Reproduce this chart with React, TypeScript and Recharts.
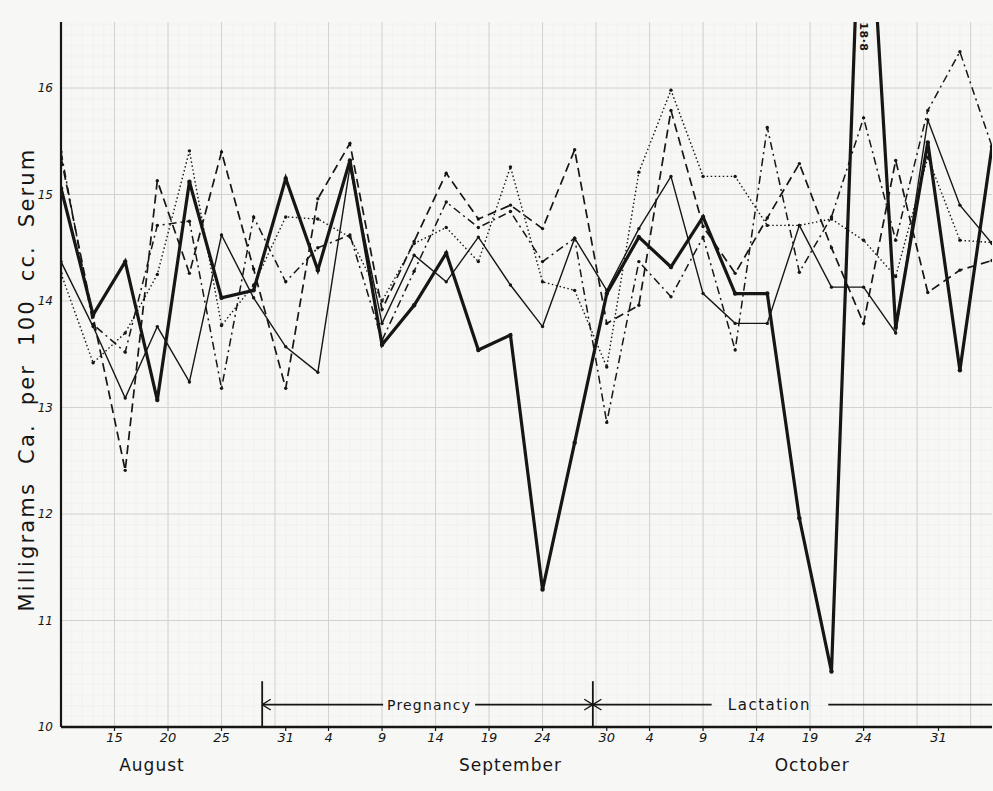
import { LineChart, Line, XAxis, YAxis, CartesianGrid, ReferenceLine, ReferenceDot } from 'recharts'

// day index: 0 = 1 August
const days = [9, 12, 15, 18, 21, 24, 27, 30, 33, 36, 39, 42, 45, 48, 51, 54, 57, 60, 63, 66, 69, 72, 75, 78, 81, 84, 87, 90, 93, 96]

const heavy = [15.06, 13.87, 14.37, 13.07, 15.12, 14.03, 14.1, 15.15, 14.29, 15.32, 13.59, 13.96, 14.45, 13.54, 13.68, 11.29, 12.67, 14.07, 14.6, 14.32, 14.79, 14.07, 14.07, 11.96, 10.52, 18.8, 13.75, 15.49, 13.35, 15.45]
const thin = [14.37, 13.76, 13.09, 13.76, 13.24, 14.62, 14.03, 13.57, 13.33, 15.26, 13.79, 14.43, 14.18, 14.6, 14.15, 13.76, 14.59, 14.1, 14.68, 15.17, 14.07, 13.79, 13.79, 14.71, 14.13, 14.13, 13.7, 15.7, 14.9, 14.54]
const dashed = [15.35, 13.85, 12.41, 15.13, 14.26, 15.4, 14.3, 13.18, 14.96, 15.48, 13.92, 14.56, 15.2, 14.77, 14.9, 14.68, 15.42, 13.79, 13.96, 15.79, 14.7, 14.26, 14.78, 15.29, 14.5, 13.79, 15.32, 14.08, 14.29, 14.38]
const dotted = [14.26, 13.42, 13.7, 14.25, 15.41, 13.77, 14.15, 14.79, 14.77, 14.6, 14.0, 14.54, 14.69, 14.37, 15.26, 14.18, 14.1, 13.38, 15.21, 15.98, 15.17, 15.17, 14.71, 14.71, 14.77, 14.57, 14.23, 15.35, 14.57, 14.55]
const dashDot = [15.4, 13.78, 13.52, 14.71, 14.75, 13.18, 14.79, 14.18, 14.5, 14.62, 13.63, 14.28, 14.93, 14.69, 14.84, 14.37, 14.59, 12.86, 14.37, 14.04, 14.6, 13.54, 15.63, 14.27, 14.79, 15.72, 14.57, 15.79, 16.34, 15.45]

const tickDays = [14, 19, 24, 30, 34, 39, 44, 49, 54, 60, 64, 69, 74, 79, 84, 91]
const tickLabels = ['15', '20', '25', '31', '4', '9', '14', '19', '24', '30', '4', '9', '14', '19', '24', '31']
const monthDays = [17.5, 51, 79.2]
const monthNames = ['August', 'September', 'October']
const yTicks = [10, 11, 12, 13, 14, 15, 16]

const pregnancyStart = 27.8
const lactationStart = 58.7
const bandY = 10.21

const data = days.map((d, i) => ({
  day: d,
  heavy: heavy[i],
  thin: thin[i],
  dashed: dashed[i],
  dotted: dotted[i],
  dashDot: dashDot[i],
}))

const FONT = '"DejaVu Sans", "Liberation Sans", sans-serif'
const INK = '#161616'

const majorV = [14, 19, 24, 29, 34, 39, 44, 49, 54, 59, 64, 69, 74, 79, 84, 89, 94]
const minorV = Array.from({ length: 88 }, (_, i) => 9 + i)
const minorH = Array.from({ length: 67 }, (_, i) => 10 + i / 10)

const dot = { r: 1.7, fill: INK, stroke: INK, strokeWidth: 0 }

function textAt(value: string, size: number, opts: any = {}) {
  return (props: any) => {
    const vb = props.viewBox || {}
    const x = (vb.x ?? 0) + (vb.width ?? 0) / 2 + (opts.dx ?? 0)
    const y = (vb.y ?? 0) + (vb.height ?? 0) / 2 + (opts.dyPx ?? 0)
    return (
      <text
        x={x}
        y={y}
        dy="0.35em"
        textAnchor="middle"
        fontFamily={FONT}
        fontSize={size}
        fill={INK}
        letterSpacing={opts.spacing ?? 1}
        wordSpacing={opts.words ?? 0}
        fontWeight={opts.weight ?? 'normal'}
        transform={opts.angle ? `rotate(${opts.angle} ${x} ${y})` : undefined}
      >
        {value}
      </text>
    )
  }
}

function seg(x1: number, y1: number, x2: number, y2: number, key: string, w = 1.6) {
  return (
    <ReferenceLine
      key={key}
      segment={[{ x: x1, y: y1 }, { x: x2, y: y2 }]}
      stroke={INK}
      strokeWidth={w}
      ifOverflow="visible"
    />
  )
}

export default function App() {
  const ah = 0.8
  const av = 0.05
  return (
    <div style={{ position: 'absolute', left: 0, top: 0, width: 993, height: 791, background: '#f7f7f5' }}>
      <LineChart width={993} height={791} data={data} margin={{ top: 22, right: 1, bottom: 10, left: 16 }}>
        <CartesianGrid verticalValues={minorV} horizontalValues={minorH} stroke="#ededea" strokeWidth={0.5} />
        <CartesianGrid verticalValues={majorV} horizontalValues={yTicks} stroke="#d2d2cf" strokeWidth={1} />
        <XAxis
          dataKey="day"
          type="number"
          domain={[9, 96]}
          ticks={tickDays}
          interval={0}
          tickFormatter={(v: number) => tickLabels[tickDays.indexOf(v)] ?? ''}
          height={24}
          tickSize={4}
          stroke={INK}
          axisLine={{ stroke: INK, strokeWidth: 2.6 }}
          tickLine={{ stroke: INK, strokeWidth: 1.2 }}
          tick={{ fontSize: 13, fontStyle: 'italic', fill: INK, fontFamily: FONT }}
          allowDataOverflow
        />
        <XAxis
          xAxisId="month"
          dataKey="day"
          type="number"
          domain={[9, 96]}
          ticks={monthDays}
          interval={0}
          tickFormatter={(v: number) => monthNames[monthDays.indexOf(v)] ?? ''}
          height={30}
          axisLine={false}
          tickLine={false}
          tick={{ fontSize: 17, fill: INK, fontFamily: FONT, letterSpacing: 1 }}
        />
        <YAxis
          type="number"
          domain={[10, 16.62]}
          ticks={yTicks}
          interval={0}
          allowDataOverflow
          width={45}
          tickLine={false}
          axisLine={{ stroke: INK, strokeWidth: 2.2 }}
          tick={{ fontSize: 12, fontStyle: 'italic', fill: INK, fontFamily: FONT }}
          label={{ content: textAt('Milligrams Ca. per 100 cc. Serum', 21, { spacing: 2.2, words: 9, angle: -90, dx: -12, dyPx: 5 }) as any, position: 'center', offset: 0 } as any}
        />

        <Line dataKey="dotted" type="linear" stroke={INK} strokeWidth={1.4} strokeDasharray="1.5 2.5" dot={dot} activeDot={false} isAnimationActive={false} />
        <Line dataKey="dashDot" type="linear" stroke={INK} strokeWidth={1.5} strokeDasharray="8 4 2 4" dot={dot} activeDot={false} isAnimationActive={false} />
        <Line dataKey="dashed" type="linear" stroke={INK} strokeWidth={1.7} strokeDasharray="9 5" dot={dot} activeDot={false} isAnimationActive={false} />
        <Line dataKey="thin" type="linear" stroke={INK} strokeWidth={1.4} dot={dot} activeDot={false} isAnimationActive={false} />
        <Line dataKey="heavy" type="linear" stroke={INK} strokeWidth={3.2} dot={{ ...dot, r: 2.2 }} activeDot={false} isAnimationActive={false} />

        {/* Pregnancy / Lactation band */}
        {seg(pregnancyStart, 10, pregnancyStart, 10.43, 'pv', 1.8)}
        {seg(lactationStart, 10, lactationStart, 10.43, 'lv', 1.8)}
        {seg(pregnancyStart, bandY, 39.1, bandY, 'p1')}
        {seg(47.7, bandY, lactationStart, bandY, 'p2')}
        {seg(lactationStart, bandY, 69.8, bandY, 'l1')}
        {seg(80.7, bandY, 96, bandY, 'l2')}
        {seg(pregnancyStart, bandY, pregnancyStart + ah, bandY + av, 'pa1', 1.3)}
        {seg(pregnancyStart, bandY, pregnancyStart + ah, bandY - av, 'pa2', 1.3)}
        {seg(lactationStart, bandY, lactationStart - ah, bandY + av, 'la1', 1.3)}
        {seg(lactationStart, bandY, lactationStart - ah, bandY - av, 'la2', 1.3)}
        {seg(lactationStart, bandY, lactationStart + ah, bandY + av, 'la3', 1.3)}
        {seg(lactationStart, bandY, lactationStart + ah, bandY - av, 'la4', 1.3)}
        <ReferenceDot x={43.4} y={bandY} r={0} stroke="none" fill="none" ifOverflow="visible" label={{ content: textAt('Pregnancy', 14, { spacing: 1.2 }) as any } as any} />
        <ReferenceDot x={75.2} y={bandY} r={0} stroke="none" fill="none" ifOverflow="visible" label={{ content: textAt('Lactation', 15, { spacing: 1.5 }) as any } as any} />
        <ReferenceDot x={84} y={16.48} r={0} stroke="none" fill="none" ifOverflow="visible" label={{ content: textAt('18·8', 11, { spacing: 0.5, angle: 90, weight: 'bold' }) as any } as any} />
      </LineChart>
    </div>
  )
}
